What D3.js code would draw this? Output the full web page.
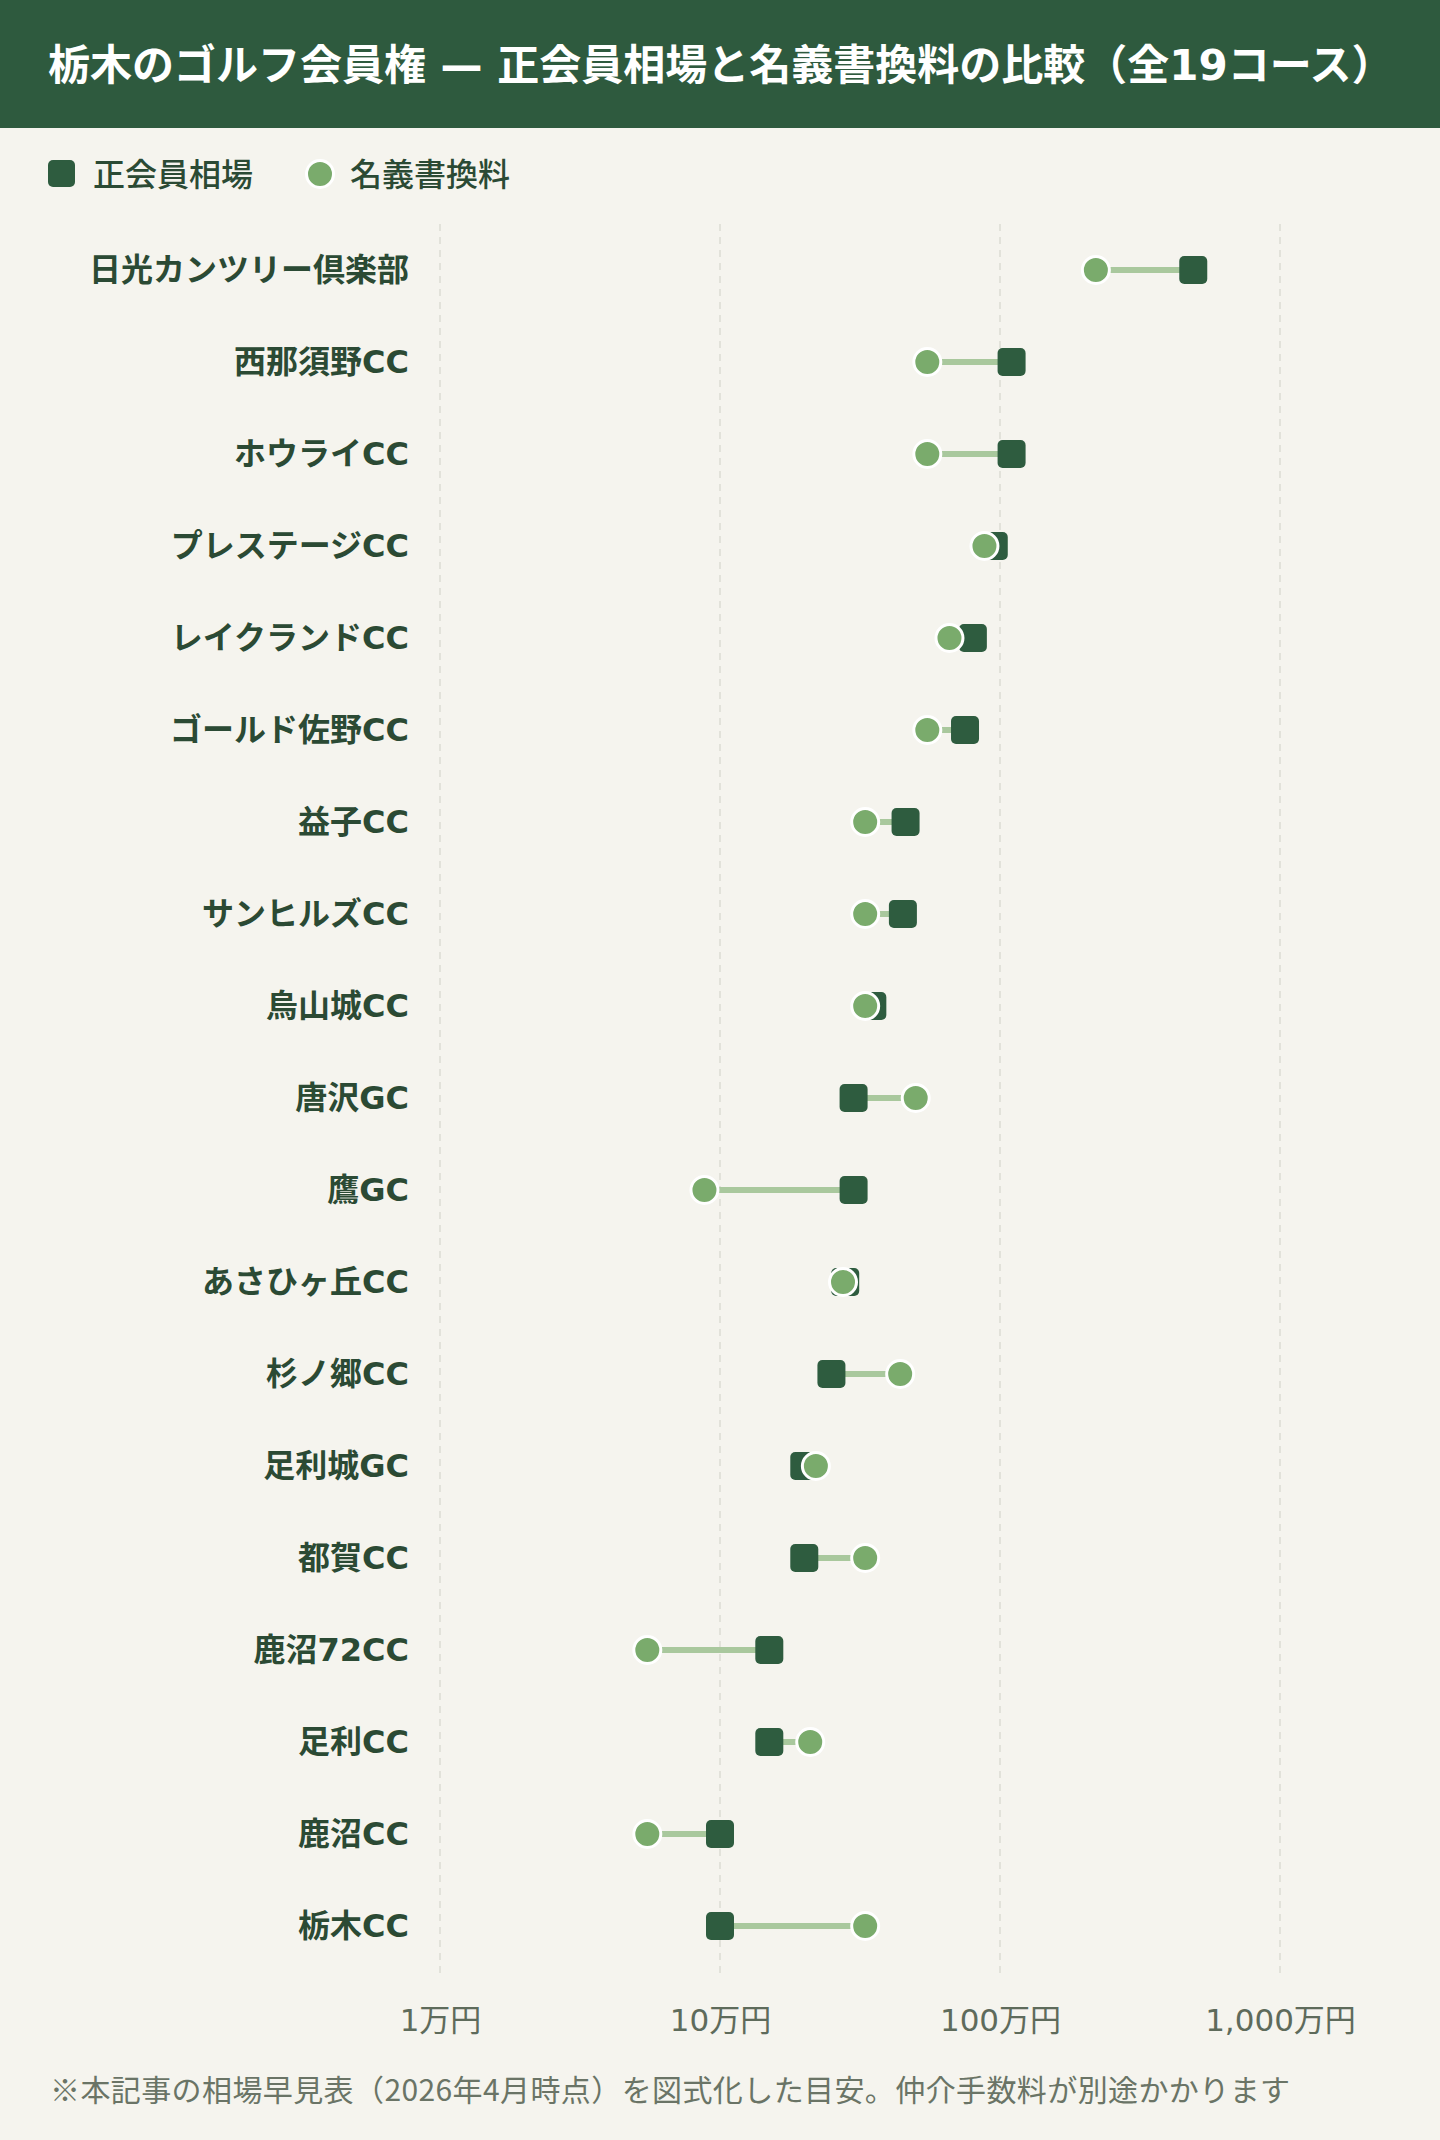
<!DOCTYPE html>
<html><head><meta charset="utf-8">
<script src="https://cdn.jsdelivr.net/npm/d3@7"></script>
<style>
body{margin:0;background:#f5f4ee;}
svg{display:block;font-family:"DejaVu Sans","Noto Sans CJK JP","Noto Sans",sans-serif;}
</style>
</head><body>
<svg id="chart" width="1440" height="2140"></svg>
<script>
// ---- data ----
const courses = ["日光カンツリー倶楽部","西那須野CC","ホウライCC","プレステージCC","レイクランドCC","ゴールド佐野CC","益子CC","サンヒルズCC","烏山城CC","唐沢GC","鷹GC","あさひヶ丘CC","杉ノ郷CC","足利城GC","都賀CC","鹿沼72CC","足利CC","鹿沼CC","栃木CC"];
const marketPrice = [490,110,110,95,80,75,46,45,35,30,30,28,25,20,20,15,15,10,10];      // 正会員相場 (万円)
const transferFee = [220,55,55,88,66,55,33,33,33,50,8.8,27.5,44,22,33,5.5,21,5.5,33];   // 名義書換料 (万円)
const seriesNames = ["正会員相場","名義書換料"];
const tickValues = [1,10,100,1000];
const tickLabels = ["1万円","10万円","100万円","1,000万円"];
const titleText = "栃木のゴルフ会員権 — 正会員相場と名義書換料の比較（全19コース）";
const noteText = "※本記事の相場早見表（2026年4月時点）を図式化した目安。仲介手数料が別途かかります";

// ---- style ----
const C = {bg:"#f5f4ee", header:"#2e5a3e", square:"#2e5c3f", circle:"#7aab6c", link:"#a9c89d",
           label:"#2b4a34", tick:"#5e6b5b", note:"#6a7466", grid:"#dcdbd4"};
const FONT = '"DejaVu Sans","Noto Sans CJK JP","Noto Sans",sans-serif';

const svg = d3.select("#chart");
svg.append("rect").attr("width",1440).attr("height",2140).attr("fill",C.bg);

// header
svg.append("rect").attr("width",1440).attr("height",128).attr("fill",C.header);
svg.append("text").attr("x",48).attr("y",65).attr("dominant-baseline","central")
  .attr("font-size",42).attr("font-weight",700).attr("fill","#fff").text(titleText);

// legend
const leg = svg.append("g");
leg.append("rect").attr("x",48).attr("y",160).attr("width",27).attr("height",27).attr("rx",5).attr("fill",C.square);
leg.append("text").attr("x",93).attr("y",172).attr("dominant-baseline","central").attr("font-size",32)
  .attr("fill",C.label).attr("font-weight",500).attr("font-family",'"Noto Sans CJK JP",sans-serif').text(seriesNames[0]);
leg.append("circle").attr("cx",320).attr("cy",174).attr("r",13.5).attr("fill",C.circle).attr("stroke","#fff").attr("stroke-width",3);
leg.append("text").attr("x",350).attr("y",172).attr("dominant-baseline","central").attr("font-size",32)
  .attr("fill",C.label).attr("font-weight",500).attr("font-family",'"Noto Sans CJK JP",sans-serif').text(seriesNames[1]);

// scales
const x = d3.scaleLog().domain([1,1000]).range([440,1280]);
const y = d3.scaleBand().domain(courses).range([224,1972]).padding(0);
const cy = d => y(d) + y.bandwidth()/2;

// grid
svg.append("g").selectAll("line").data(tickValues).join("line")
  .attr("x1",d=>x(d)).attr("x2",d=>x(d)).attr("y1",224).attr("y2",1974)
  .attr("stroke",C.grid).attr("stroke-width",1.5).attr("stroke-dasharray","7,6");

// row labels
svg.append("g").selectAll("text").data(courses).join("text")
  .attr("x",409).attr("y",d=>cy(d)).attr("dominant-baseline","central").attr("text-anchor","end")
  .attr("font-size",32).attr("font-weight",700).attr("fill",C.label).text(d=>d);

const rows = courses.map((c,i)=>({c, m:marketPrice[i], f:transferFee[i]}));

// links
svg.append("g").selectAll("line").data(rows).join("line")
  .attr("x1",d=>x(d.m)).attr("x2",d=>x(d.f)).attr("y1",d=>cy(d.c)).attr("y2",d=>cy(d.c))
  .attr("stroke",C.link).attr("stroke-width",6);

// squares
const S = 28;
svg.append("g").selectAll("rect").data(rows).join("rect")
  .attr("x",d=>x(d.m)-S/2).attr("y",d=>cy(d.c)-S/2).attr("width",S).attr("height",S).attr("rx",5)
  .attr("fill",C.square);

// circles
svg.append("g").selectAll("circle").data(rows).join("circle")
  .attr("cx",d=>x(d.f)).attr("cy",d=>cy(d.c)).attr("r",13.5)
  .attr("fill",C.circle).attr("stroke","#fff").attr("stroke-width",3);

// axis
const axis = d3.axisBottom(x).tickValues(tickValues).tickFormat((d,i)=>tickLabels[i]).tickSize(0).tickPadding(37);
const ag = svg.append("g").attr("transform","translate(0,1972)").call(axis);
ag.select(".domain").remove();
ag.selectAll("text").attr("font-size",31).attr("fill",C.tick).attr("font-family",FONT);

// note
svg.append("text").attr("x",50).attr("y",2088).attr("dominant-baseline","central")
  .attr("font-size",30).attr("letter-spacing",0.4).attr("fill",C.note)
  .attr("font-family",'"Noto Sans CJK JP",sans-serif').text(noteText);
</script>
</body></html>
